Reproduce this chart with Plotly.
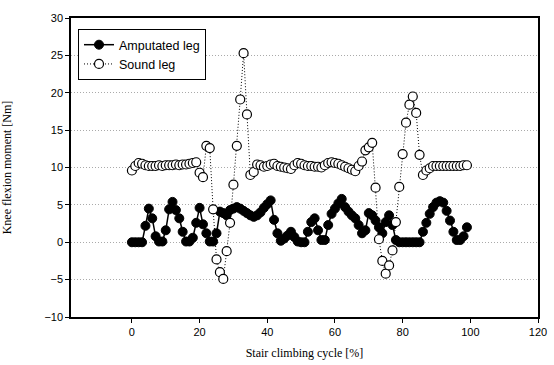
import plotly.graph_objects as go

cycle = list(range(0, 100))

amputated = [0, 0, 0, 0, 2.2, 4.5, 3.2, 0.8, 0.1, 0.1,
             1.6, 4.4, 5.4, 4.3, 3.2, 1.4, 0.1, 0.1, 0.6, 2.6,
             4.6, 2.4, 1.2, 0.1, 0.1, 1.2, 4.1, 3.9, 3.6, 4.3,
             4.5, 4.7, 4.5, 4.2, 3.9, 3.6, 3.4, 3.6, 4.0, 4.6,
             5.1, 5.6, 3.0, 1.2, 0.2, 0.5, 0.9, 1.4, 0.7, 0.1,
             0.0, 0.0, 1.4, 2.7, 3.2, 1.6, 0.3, 0.3, 2.3, 3.8,
             4.5, 5.2, 5.8, 4.7, 4.1, 3.6, 3.2, 2.3, 1.2, 1.6,
             3.9, 3.6, 2.9, 2.0, 1.2, 2.7, 3.6, 2.3, 0.3, 0,
             0, 0, 0, 0, 0, 0, 1.4, 2.6, 3.8, 4.7,
             5.3, 5.5, 5.3, 4.2, 2.9, 1.4, 0.3, 0.3, 0.8, 2.0]

sound = [9.6, 10.2, 10.6, 10.5, 10.3, 10.2, 10.2, 10.2, 10.3, 10.2,
         10.3, 10.3, 10.3, 10.4, 10.3, 10.4, 10.4, 10.5, 10.6, 10.7,
         9.3, 8.7, 12.9, 12.6, 4.4, -2.3, -4.0, -4.9, -1.2, 2.6,
         7.7, 12.9, 19.1, 25.3, 17.1, 9.0, 9.4, 10.4, 10.3, 10.1,
         10.2, 10.4, 10.5, 10.2, 10.1, 10.0, 9.9, 9.8, 10.3, 10.6,
         10.5, 10.3, 10.2, 10.2, 10.1, 10.1, 10.0, 10.3, 10.6, 10.7,
         10.6, 10.5, 10.3, 10.1, 9.9, 9.7, 9.5, 10.2, 10.8, 12.3,
         12.7, 13.3, 7.3, 0.4, -2.5, -4.2, -3.1, -1.1, 2.7, 7.4,
         11.8, 16.0, 18.4, 19.5, 17.3, 11.7, 9.0, 9.6, 9.9, 10.2,
         10.2, 10.2, 10.2, 10.2, 10.2, 10.2, 10.2, 10.2, 10.3, 10.3]

x_ticks = [0, 20, 40, 60, 80, 100, 120]
x_grid = [20, 40, 60, 80, 100]
y_ticks = [-10, -5, 0, 5, 10, 15, 20, 25, 30]

fig = go.Figure()
fig.add_trace(go.Scatter(
    x=cycle, y=amputated, name="Amputated leg", mode="lines+markers",
    line=dict(color="black", width=1.5),
    marker=dict(symbol="circle", size=9, color="black", line=dict(color="black", width=1)),
))
fig.add_trace(go.Scatter(
    x=cycle, y=sound, name="Sound leg", mode="lines+markers",
    line=dict(color="black", width=1, dash="1px,2px"),
    marker=dict(symbol="circle", size=9, color="white", line=dict(color="black", width=1.2)),
))

tick_font = dict(family="Liberation Sans, Arial", size=11, color="black")
title_font = dict(family="Liberation Serif, Times New Roman", size=12, color="black")

fig.update_layout(
    width=554, height=365,
    margin=dict(l=71, r=16, t=18, b=48),
    paper_bgcolor="white", plot_bgcolor="white",
    showlegend=True,
    legend=dict(
        x=0.015, y=0.963, xanchor="left", yanchor="top",
        bgcolor="white", bordercolor="black", borderwidth=1,
        font=dict(family="Liberation Sans, Arial", size=12.5, color="black"),
        itemwidth=30, tracegroupgap=0,
    ),
    xaxis=dict(
        range=[-18, 120], tickvals=x_ticks, ticks="outside", ticklen=4,
        tickcolor="black", showgrid=False, zeroline=False, automargin=False,
        showline=True, linecolor="black", linewidth=1.5, mirror=True,
        tickfont=tick_font,
        title=dict(text="Stair climbing cycle [%]", font=title_font, standoff=12),
    ),
    xaxis2=dict(
        range=[-18, 120], tickvals=x_grid, overlaying="x", anchor="y",
        showticklabels=False, showgrid=True, gridcolor="#aaaaaa", automargin=False,
        griddash="1px,2px", gridwidth=1, zeroline=False, showline=False,
    ),
    yaxis=dict(
        range=[-10, 30], tickvals=y_ticks, ticks="outside", ticklen=4,
        tickcolor="black", showgrid=True, gridcolor="#aaaaaa", automargin=False,
        griddash="1px,2px", gridwidth=1, zeroline=False,
        showline=True, linecolor="black", linewidth=1.5, mirror=True,
        tickfont=tick_font,
        title=dict(text="Knee flexion moment [Nm]", font=title_font, standoff=30),
    ),
)

fig.write_html("out.html", config={"displayModeBar": False},
               post_script="document.body.style.margin='0';document.body.style.overflow='hidden';")
